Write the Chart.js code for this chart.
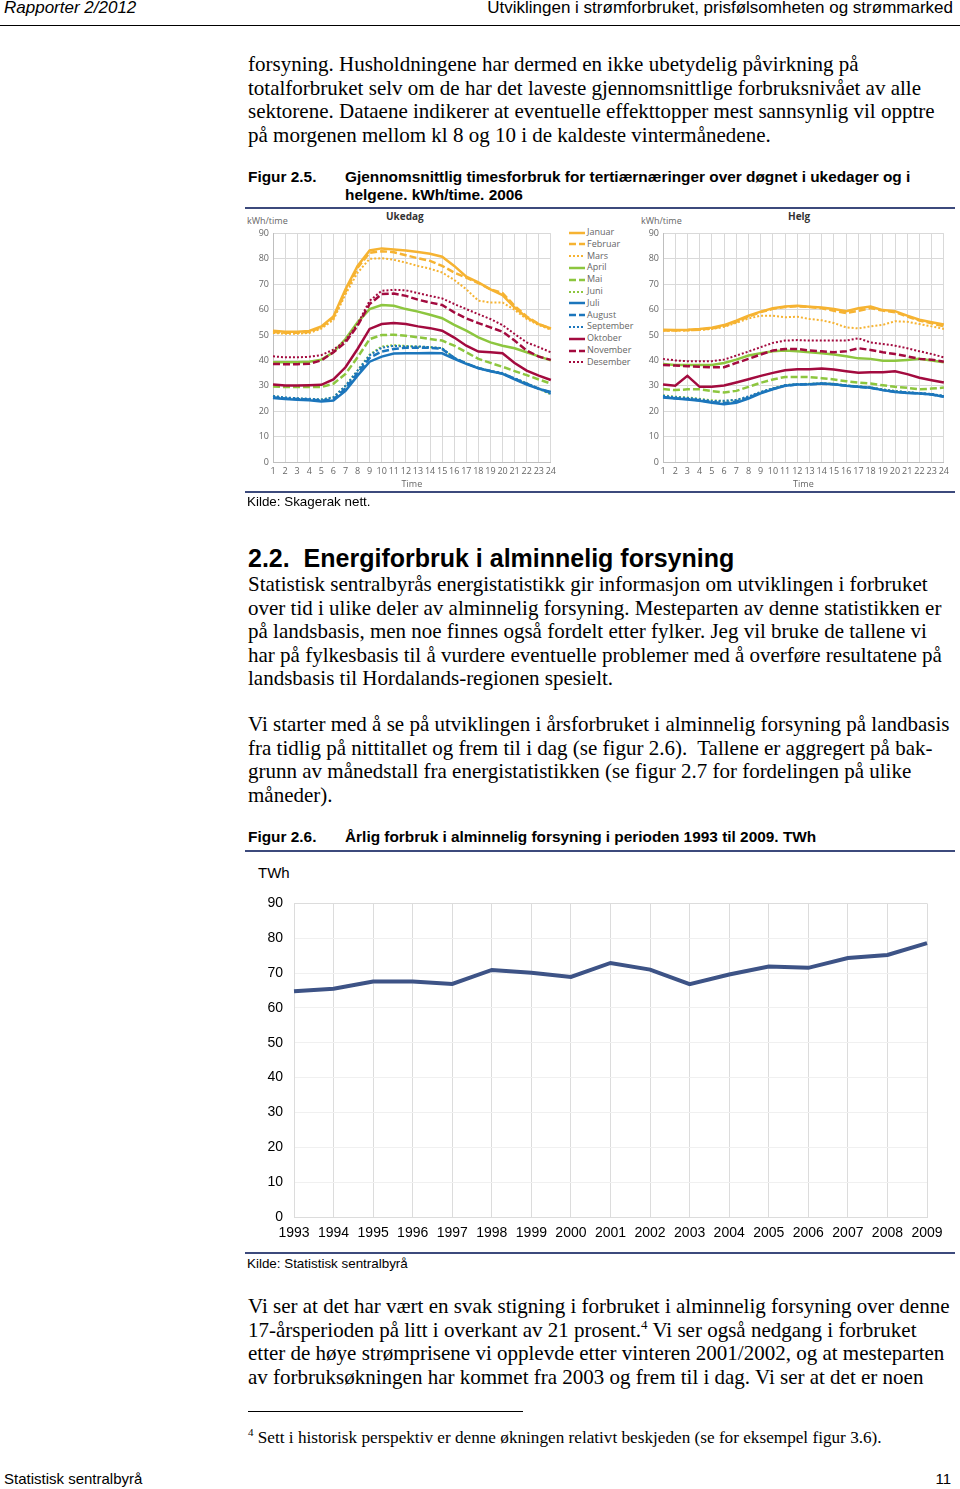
<!DOCTYPE html>
<html lang="no">
<head>
<meta charset="utf-8">
<script src="https://cdn.jsdelivr.net/npm/chart.js@4.4.1/dist/chart.umd.min.js"></script>
<style>
body { margin: 0; background: #fff; }
#page { position: relative; width: 960px; height: 1489px; overflow: hidden; font-family: "Liberation Serif", serif; color: #000; }
.abs { position: absolute; white-space: nowrap; }
.sans { font-family: "Liberation Sans", Arial, sans-serif; }
.body { font-size: 21px; line-height: 23.5px; left: 248px; }
.rule { position: absolute; height: 2px; background: #3c4a7c; }
.cap { font-family: "Liberation Sans", Arial, sans-serif; font-size: 15.4px; font-weight: bold; }
.small { font-family: "Open Sans", sans-serif; font-size: 9px; color: #666; }
.ctitle { font-family: "Open Sans", sans-serif; font-size: 10px; font-weight: bold; color: #333; }
canvas { position: absolute; }
#legend div { position: absolute; left: 569px; height: 12px; font-family: "Open Sans", sans-serif; font-size: 9px; color: #666; line-height: 12px; }
#legend svg { vertical-align: middle; margin-right: 2px; }
</style>
</head>
<body>
<div id="page">
  <!-- header -->
  <div class="abs sans" style="left:4px; top:-2px; font-size:17px; font-style:italic;">Rapporter 2/2012</div>
  <div class="abs sans" style="right:7px; top:-2px; font-size:17px;">Utviklingen i strømforbruket, prisfølsomheten og strømmarked</div>
  <div style="position:absolute; left:0; top:25px; width:960px; height:1px; background:#000;"></div>

  <div class="abs body" style="top:53px;">forsyning. Husholdningene har dermed en ikke ubetydelig påvirkning på<br>totalforbruket selv om de har det laveste gjennomsnittlige forbruksnivået av alle<br>sektorene. Dataene indikerer at eventuelle effekttopper mest sannsynlig vil opptre<br>på morgenen mellom kl 8 og 10 i de kaldeste vintermånedene.</div>

  <!-- figur 2.5 -->
  <div class="abs cap" style="left:248px; top:168px;">Figur 2.5.</div>
  <div class="abs cap" style="left:345px; top:168px; line-height:18px;">Gjennomsnittlig timesforbruk for tertiærnæringer over døgnet i ukedager og i<br>helgene. kWh/time. 2006</div>
  <div class="rule" style="left:245px; top:207px; width:710px;"></div>

  <div class="abs small" style="left:247px; top:214px;">kWh/time</div>
  <div class="abs ctitle" style="left:386px; top:209px;">Ukedag</div>
  <div class="abs small" style="left:641px; top:214px;">kWh/time</div>
  <div class="abs ctitle" style="left:788px; top:209px;">Helg</div>

  <canvas id="ukedag" width="315" height="269" style="left:245px; top:224px;"></canvas>
  <canvas id="helg" width="318" height="269" style="left:635px; top:224px;"></canvas>
  <div id="legend"></div>

  <div class="rule" style="left:245px; top:491px; width:710px;"></div>
  <div class="abs sans" style="left:247px; top:494px; font-size:13.4px;">Kilde: Skagerak nett.</div>

  <div class="abs sans" style="left:248px; top:544px; font-size:25px; font-weight:bold;">2.2.&nbsp; Energiforbruk i alminnelig forsyning</div>
  <div class="abs body" style="top:573px;">Statistisk sentralbyrås energistatistikk gir informasjon om utviklingen i forbruket<br>over tid i ulike deler av alminnelig forsyning. Mesteparten av denne statistikken er<br>på landsbasis, men noe finnes også fordelt etter fylker. Jeg vil bruke de tallene vi<br>har på fylkesbasis til å vurdere eventuelle problemer med å overføre resultatene på<br>landsbasis til Hordalands-regionen spesielt.</div>

  <div class="abs body" style="top:713px;">Vi starter med å se på utviklingen i årsforbruket i alminnelig forsyning på landbasis<br>fra tidlig på nittitallet og frem til i dag (se figur 2.6).&nbsp; Tallene er aggregert på bak-<br>grunn av månedstall fra energistatistikken (se figur 2.7 for fordelingen på ulike<br>måneder).</div>

  <!-- figur 2.6 -->
  <div class="abs cap" style="left:248px; top:828px;">Figur 2.6.</div>
  <div class="abs cap" style="left:345px; top:828px;">Årlig forbruk i alminnelig forsyning i perioden 1993 til 2009. TWh</div>
  <div class="rule" style="left:245px; top:850px; width:710px;"></div>
  <div class="abs sans" style="left:258px; top:864px; font-size:15px;">TWh</div>
  <canvas id="arlig" width="715" height="361" style="left:245px; top:884px;"></canvas>
  <div class="rule" style="left:245px; top:1252px; width:710px;"></div>
  <div class="abs sans" style="left:247px; top:1256px; font-size:13.4px;">Kilde: Statistisk sentralbyrå</div>

  <div class="abs body" style="top:1295px;">Vi ser at det har vært en svak stigning i forbruket i alminnelig forsyning over denne<br>17-årsperioden på litt i overkant av 21 prosent.<sup style="font-size:13px; line-height:0;">4</sup> Vi ser også nedgang i forbruket<br>etter de høye strømprisene vi opplevde etter vinteren 2001/2002, og at mesteparten<br>av forbruksøkningen har kommet fra 2003 og frem til i dag. Vi ser at det er noen</div>

  <div style="position:absolute; left:248px; top:1411px; width:275px; height:1px; background:#000;"></div>
  <div class="abs" style="left:248px; top:1428px; font-size:17.2px;"><sup style="font-size:11px; line-height:0;">4</sup> Sett i historisk perspektiv er denne økningen relativt beskjeden (se for eksempel figur 3.6).</div>

  <div class="abs sans" style="left:4px; top:1470px; font-size:15px;">Statistisk sentralbyrå</div>
  <div class="abs sans" style="right:9px; top:1470px; font-size:15px;">11</div>
</div>

<script>
// Tick labels / categories
const hours = ['1','2','3','4','5','6','7','8','9','10','11','12','13','14','15','16','17','18','19','20','21','22','23','24'];
const months = ['Januar','Februar','Mars','April','Mai','Juni','Juli','August','September','Oktober','November','Desember'];
const years = ['1993','1994','1995','1996','1997','1998','1999','2000','2001','2002','2003','2004','2005','2006','2007','2008','2009'];

// Ukedag, kWh/time per hour
const ukedagJanuar = [51.7, 51.3, 51.3, 51.6, 53.4, 57.3, 68, 77.2, 83.3, 84.1, 83.7, 83.3, 82.7, 82, 80.8, 77.2, 73, 70.7, 68, 65.7, 60.8, 56.9, 54.3, 52.6];
const ukedagFebruar = [51.2, 50.9, 50.9, 51.2, 53, 56.8, 67, 76.5, 82.4, 83, 82.6, 81.4, 80.2, 79.2, 77.2, 74.6, 72.6, 70.4, 68, 66.5, 61.5, 57.3, 54.3, 52.4];
const ukedagMars = [50.8, 50.5, 50.5, 50.8, 52.5, 56, 66, 74.5, 80, 80.2, 79.6, 78.5, 77.2, 76.1, 74.6, 71.7, 68, 63.5, 62.8, 62.8, 59.9, 56.3, 53.9, 52.1];
const ukedagApril = [39.3, 39.3, 39.3, 39.5, 40.3, 43.2, 48.4, 55, 60.2, 61.8, 61.5, 60.2, 59.2, 58, 56.6, 54, 51.7, 49.1, 47.1, 45.8, 44.8, 43.2, 41.6, 40];
const ukedagMai = [29.7, 29.5, 29.5, 29.5, 29.5, 30.8, 34.7, 41.2, 48.4, 50, 50.1, 49.7, 49.1, 48.4, 47.8, 45.8, 43.2, 40.6, 39, 37.5, 35.8, 34.2, 32.5, 30.9];
const ukedagJuni = [26, 25.3, 25, 24.8, 24.6, 25.5, 30, 36, 42.3, 45.5, 46, 45.7, 45.4, 45.2, 44.8, 41, 38.8, 37, 35.8, 34.8, 32.8, 31, 28.8, 26.6];
const ukedagJuli = [25.2, 24.8, 24.5, 24.3, 23.8, 24.2, 28, 34, 39.5, 41.5, 42.7, 42.8, 42.8, 42.9, 42.8, 40.6, 38.6, 36.9, 35.7, 34.7, 32.5, 30.5, 28.8, 27.6];
const ukedagAugust = [25.5, 25, 24.8, 24.6, 24.2, 24.6, 29, 35, 41, 43.5, 44.5, 45, 45, 45, 44.5, 41, 38.8, 37, 35.8, 34.8, 32.8, 30.8, 28.9, 27.3];
const ukedagSeptember = [26, 25.4, 25.1, 24.9, 24.6, 25.5, 30, 36, 42, 45, 45.7, 45.5, 45.5, 45.2, 44.8, 41, 38.8, 37, 35.9, 35, 33, 31, 28.9, 26.8];
const ukedagOktober = [30.5, 30.1, 30.1, 30.2, 30.4, 32.5, 37.3, 44.5, 52.4, 54.3, 54.7, 54.3, 53.4, 52.7, 51.7, 49, 45.8, 43.5, 43.2, 42.8, 39, 36, 34, 32.3];
const ukedagNovember = [38.6, 38.5, 38.5, 38.7, 40, 43.2, 47.1, 53.7, 62.2, 66.1, 66.3, 65.4, 63.9, 62.8, 61.8, 58.9, 56.5, 54.7, 53, 51.3, 47.8, 43.9, 41.5, 40.2];
const ukedagDesember = [41.6, 41.2, 41.2, 41.4, 42.1, 44.2, 47.8, 54.3, 63.5, 67.4, 67.8, 67.6, 66.5, 65.4, 64.4, 62.2, 60.2, 58.2, 56.3, 53.9, 50.4, 47.1, 45.2, 43.2];

// Helg, kWh/time per hour
const helgJanuar = [52.1, 52, 52.1, 52.4, 52.9, 53.9, 55.6, 57.6, 59.2, 60.5, 61.2, 61.5, 61.1, 60.8, 60.2, 59.4, 60.5, 61.2, 59.8, 59.4, 57.6, 56, 55, 54.1];
const helgFebruar = [51.8, 51.8, 51.9, 52.1, 52.6, 53.5, 55.2, 57.2, 59, 60.3, 61, 61.3, 61, 60.5, 59.5, 58.6, 59.5, 60.6, 59.6, 59, 57.3, 55.7, 54.6, 53.4];
const helgMars = [51.8, 51.7, 51.8, 52, 52.4, 53.2, 54.8, 56.5, 57.6, 57.6, 57, 57.2, 56.3, 55.8, 54.7, 53, 52.6, 53.4, 54, 55.4, 55.2, 54.3, 53.4, 52.4];
const helgApril = [38.6, 38.2, 38.2, 38.2, 38.2, 39, 40.3, 41.9, 42.8, 43.6, 43.9, 43.6, 43.2, 42.8, 42.3, 41.6, 40.8, 40.6, 39.9, 39.9, 40.2, 40.6, 40, 39.3];
const helgMai = [28.7, 28.3, 28.6, 28.6, 27.9, 27.4, 28, 29.6, 31.2, 32.5, 33.5, 33.5, 33.4, 33, 32.5, 31.8, 31.3, 30.9, 30.2, 29.6, 29.2, 28.6, 28.9, 29.3];
const helgJuni = [26.3, 25.7, 25.4, 24.9, 24.3, 24, 24.4, 25.6, 27.5, 29, 30.3, 30.7, 30.8, 31, 30.8, 30.2, 29.8, 29.4, 28.6, 28, 27.4, 27, 26.7, 25.9];
const helgJuli = [25.4, 25, 24.6, 24.1, 23.3, 22.7, 23.3, 25, 27, 28.6, 30, 30.5, 30.6, 30.9, 30.6, 30, 29.6, 29.2, 28.3, 27.6, 27.2, 27, 26.6, 25.7];
const helgAugust = [25.6, 25.1, 24.8, 24.3, 23.6, 23.2, 23.8, 25.3, 27.3, 28.8, 30.1, 30.5, 30.6, 30.8, 30.6, 30, 29.6, 29.2, 28.3, 27.7, 27.3, 27, 26.6, 25.8];
const helgSeptember = [26.1, 25.5, 25.2, 24.7, 24, 24.1, 24.5, 25.8, 27.6, 29, 30.2, 30.6, 30.7, 30.9, 30.6, 30.1, 29.7, 29.3, 28.5, 27.9, 27.5, 27.1, 26.8, 26];
const helgOktober = [30.5, 30, 33.9, 29.6, 29.6, 30.1, 31.3, 32.6, 33.9, 35.1, 36.1, 36.5, 36.5, 36.8, 36.4, 35.7, 35.1, 35.3, 35.3, 35.7, 34.6, 33.2, 32.2, 31.3];
const helgNovember = [38.2, 38, 37.7, 37.5, 37.3, 37.3, 39, 40.6, 42.3, 43.9, 44.5, 44.5, 43.9, 43.6, 43.2, 43.6, 44.8, 44.1, 43.2, 42.5, 41.6, 40.6, 40.3, 39.5];
const helgDesember = [40.6, 40, 39.7, 39.7, 39.7, 40.3, 41.9, 43.5, 45.2, 46.9, 47.8, 48, 47.8, 47.8, 47.8, 47.8, 48.7, 47.1, 46.5, 45.8, 44.8, 43.6, 42.5, 41.2];

// Årlig forbruk i alminnelig forsyning, TWh
const arligForbruk = [64.8, 65.5, 67.6, 67.6, 66.9, 70.9, 70.1, 68.9, 72.9, 71.0, 66.8, 69.6, 71.9, 71.5, 74.3, 75.2, 78.6];

const ukedagSeries = [ukedagJanuar, ukedagFebruar, ukedagMars, ukedagApril, ukedagMai, ukedagJuni,
    ukedagJuli, ukedagAugust, ukedagSeptember, ukedagOktober, ukedagNovember, ukedagDesember];
const helgSeries = [helgJanuar, helgFebruar, helgMars, helgApril, helgMai, helgJuni,
    helgJuli, helgAugust, helgSeptember, helgOktober, helgNovember, helgDesember];

// Styles: one colour per season group, solid / dashed / dotted within the group
const YELLOW = '#f6b332', GREEN = '#8dc63f', BLUE = '#1c76bc', RED = '#a30b3f';
const monthColors = [YELLOW, YELLOW, YELLOW, GREEN, GREEN, GREEN, BLUE, BLUE, BLUE, RED, RED, RED];
const monthDash = [[], [7, 3], [2, 2], [], [7, 3], [2, 2], [], [7, 3], [2, 2], [], [7, 3], [2, 2]];
const monthWidth = [2.5, 2.5, 2, 2.5, 2.5, 2, 2.5, 2.5, 2, 2.5, 2.5, 2];

Chart.defaults.font.family = '"Open Sans", sans-serif';
Chart.defaults.animation = false;

function hourChart(id, series) {
    const datasets = series.map((data, i) => ({
        label: months[i],
        data: data,
        borderColor: monthColors[i],
        borderDash: monthDash[i],
        borderWidth: monthWidth[i],
        pointRadius: 0,
        tension: 0,
        fill: false
    }));
    return new Chart(document.getElementById(id), {
        type: 'line',
        data: { labels: hours, datasets: datasets.slice().reverse() },
        options: {
            responsive: false,
            layout: { padding: { top: 8, right: 7, left: 0, bottom: 0 } },
            plugins: { legend: { display: false }, tooltip: { enabled: false } },
            scales: {
                x: {
                    grid: { color: '#d9d9d9', drawTicks: false },
                    border: { color: '#bfbfbf' },
                    ticks: { color: '#666', font: { size: 9 }, padding: 4, autoSkip: false, maxRotation: 0 },
                    title: { display: true, text: 'Time', color: '#666', font: { size: 9 }, padding: { top: 0, bottom: 3 } },
                    afterFit: (s) => { s.height = 31; }
                },
                y: {
                    min: 0, max: 90,
                    grid: { color: '#d9d9d9', drawTicks: false },
                    border: { color: '#bfbfbf' },
                    ticks: { stepSize: 10, color: '#666', font: { size: 9 }, padding: 4 },
                    afterFit: (s) => { s.width = 28; }
                }
            }
        }
    });
}

hourChart('ukedag', ukedagSeries);
hourChart('helg', helgSeries);

// legend between the two panels
const legend = document.getElementById('legend');
months.forEach((m, i) => {
    const row = document.createElement('div');
    row.style.top = (226 + i * 11.8) + 'px';
    const dash = monthDash[i].length ? ` stroke-dasharray="${monthDash[i].join(' ')}"` : '';
    row.innerHTML = `<svg width="16" height="4"><line x1="0" y1="2" x2="16" y2="2" stroke="${monthColors[i]}" stroke-width="${monthWidth[i]}"${dash}/></svg>${m}`;
    legend.appendChild(row);
});

// Figur 2.6
new Chart(document.getElementById('arlig'), {
    type: 'line',
    data: {
        labels: years,
        datasets: [{
            label: 'TWh',
            data: arligForbruk,
            borderColor: '#3d5386',
            borderWidth: 4,
            pointRadius: 0,
            tension: 0
        }]
    },
    options: {
        responsive: false,
        layout: { padding: { top: 18, right: 33, left: 0, bottom: 0 } },
        plugins: { legend: { display: false }, tooltip: { enabled: false } },
        scales: {
            x: {
                grid: { color: '#dcdcdc', drawTicks: false },
                border: { color: '#dcdcdc' },
                ticks: { color: '#000', font: { family: '"Liberation Sans", Arial, sans-serif', size: 14 }, padding: 8, autoSkip: false, maxRotation: 0 },
                afterFit: (s) => { s.height = 28; }
            },
            y: {
                min: 0, max: 90,
                grid: { color: (c) => (c.tick.value === 0 || c.tick.value === 90) ? '#dcdcdc' : '#f0f0f0', drawTicks: false },
                border: { color: '#dcdcdc' },
                ticks: { stepSize: 10, color: '#000', font: { family: '"Liberation Sans", Arial, sans-serif', size: 14 }, padding: 11 },
                afterFit: (s) => { s.width = 49; }
            }
        }
    }
});
</script>
</body>
</html>
